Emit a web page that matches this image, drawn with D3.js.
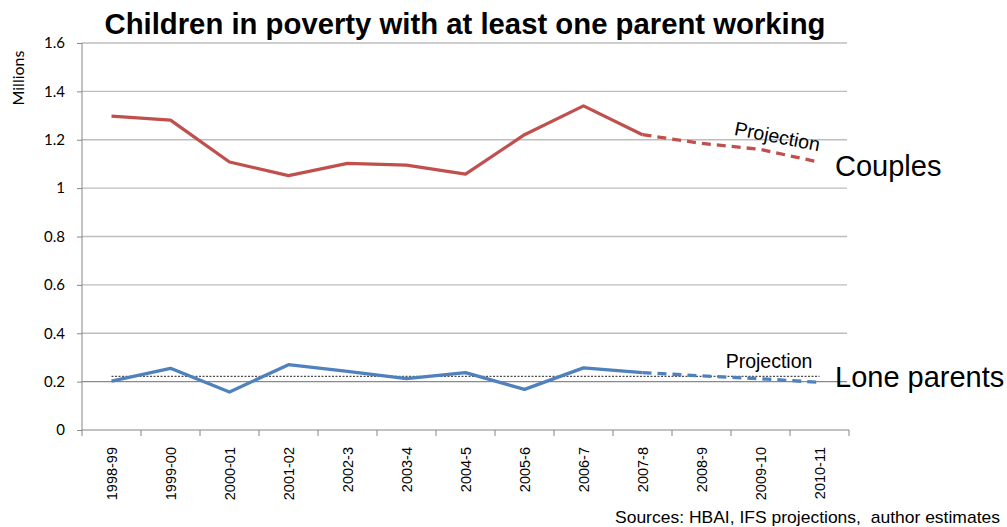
<!DOCTYPE html>
<html>
<head>
<meta charset="utf-8">
<script src="https://cdn.jsdelivr.net/npm/d3@7"></script>
<style>
  html, body { margin: 0; padding: 0; background: #ffffff; }
  svg { display: block; }
</style>
</head>
<body>
<svg id="chart" width="1007" height="527"></svg>
<script>
// Financial years shown along the bottom axis
const years = ["1998-99", "1999-00", "2000-01", "2001-02", "2002-3", "2003-4", "2004-5",
               "2005-6", "2006-7", "2007-8", "2008-9", "2009-10", "2010-11"];

// Children in poverty (millions) with at least one parent working
const couples     = [1.298, 1.281, 1.108, 1.052, 1.102, 1.095, 1.058, 1.221, 1.340, 1.221, 1.185, 1.160, 1.107];
const loneParents = [0.202, 0.255, 0.157, 0.270, 0.242, 0.212, 0.237, 0.168, 0.257, 0.237, 0.224, 0.212, 0.197];

// Last observed year; values after it are projections
const lastActual = "2007-8";

// Average level drawn as a dotted reference for lone parents
const loneAverage = 0.222;

const yTicks      = [0, 0.2, 0.4, 0.6, 0.8, 1, 1.2, 1.4, 1.6];
const yTickLabels = ["0", "0.2", "0.4", "0.6", "0.8", "1", "1.2", "1.4", "1.6"];

const svg = d3.select("#chart");
const plotLeft = 82, plotRight = 849, plotTop = 43, plotBottom = 430;

const x = d3.scaleBand().domain(years).range([plotLeft, plotRight]).padding(0);
const cx = d => x(d) + x.bandwidth() / 2;
const y = d3.scaleLinear().domain([0, 1.6]).range([plotBottom, plotTop]);

// Horizontal gridlines
svg.append("g")
  .selectAll("line")
  .data(yTicks.filter(v => v > 0))
  .join("line")
  .attr("x1", plotLeft).attr("x2", plotRight - 2)
  .attr("y1", d => y(d)).attr("y2", d => y(d))
  .attr("stroke", d => d === 0.2 ? "#8a8a8a" : "#bdbdbd")
  .attr("stroke-width", 1.3);

// Y axis
const yAxis = d3.axisLeft(y)
  .tickValues(yTicks)
  .tickFormat((d, i) => yTickLabels[i])
  .tickSize(5)
  .tickPadding(12);
const gy = svg.append("g").attr("transform", `translate(${plotLeft},0)`).call(yAxis);
gy.select(".domain").attr("stroke", "#868686").attr("d", `M0,${plotBottom + 0.5}V${plotTop}`);
gy.selectAll(".tick line").attr("stroke", "#868686");
gy.selectAll(".tick text")
  .attr("fill", "#000")
  .style("font-family", "Lato, 'Open Sans', sans-serif")
  .style("font-size", "15px");

// X axis line, boundary ticks and rotated year labels
const gx = svg.append("g");
gx.append("line")
  .attr("x1", plotLeft).attr("x2", plotRight)
  .attr("y1", plotBottom).attr("y2", plotBottom)
  .attr("stroke", "#868686").attr("stroke-width", 1);
gx.selectAll("line.tick")
  .data(years.map(d => x(d)).concat([x(years[years.length - 1]) + x.bandwidth()]))
  .join("line")
  .attr("class", "tick")
  .attr("x1", d => d).attr("x2", d => d)
  .attr("y1", plotBottom).attr("y2", plotBottom + 6)
  .attr("stroke", "#868686");
gx.selectAll("text")
  .data(years)
  .join("text")
  .attr("transform", d => `translate(${cx(d)},${plotBottom + 17}) rotate(-90)`)
  .attr("dy", "0.35em")
  .attr("text-anchor", "end")
  .style("font-family", "'Liberation Sans', Arial, sans-serif")
  .style("font-size", "14.5px")
  .text(d => d);

// Dotted average line for lone parents
svg.append("line")
  .attr("x1", cx(years[0])).attr("x2", cx(years[years.length - 1]))
  .attr("y1", y(loneAverage)).attr("y2", y(loneAverage))
  .attr("stroke", "#222")
  .attr("stroke-width", 1)
  .attr("stroke-dasharray", "2,1.5");

// Series lines: solid for observed years, dashed for projections
const line = d3.line().x(d => cx(d.year)).y(d => y(d.value));
const split = years.indexOf(lastActual);

function drawSeries(values, colour) {
  const pts = years.map((year, i) => ({ year, value: values[i] }));
  svg.append("path")
    .datum(pts.slice(0, split + 1))
    .attr("d", line)
    .attr("fill", "none")
    .attr("stroke", colour)
    .attr("stroke-width", 3.3)
    .attr("stroke-linejoin", "round");
  svg.append("path")
    .datum(pts.slice(split))
    .attr("d", line)
    .attr("fill", "none")
    .attr("stroke", colour)
    .attr("stroke-width", 3.3)
    .attr("stroke-dasharray", "9,6");
}
drawSeries(couples, "#c0504d");
drawSeries(loneParents, "#4f81bd");

// Title
svg.append("text")
  .attr("x", 465).attr("y", 34)
  .attr("text-anchor", "middle")
  .attr("textLength", 721)
  .attr("lengthAdjust", "spacingAndGlyphs")
  .style("font-family", "'Liberation Sans', Arial, sans-serif")
  .style("font-weight", "bold")
  .style("font-size", "29px")
  .text("Children in poverty with at least one parent working");

// Y axis title
svg.append("text")
  .attr("transform", "translate(24,78) rotate(-90)")
  .attr("text-anchor", "middle")
  .style("font-family", "Lato, 'Open Sans', sans-serif")
  .style("font-size", "16px")
  .text("Millions");

// Series labels
const labelFont = "'Liberation Sans', Arial, sans-serif";
svg.append("text")
  .attr("x", 835).attr("y", 176)
  .style("font-family", labelFont).style("font-size", "29px")
  .text("Couples");
svg.append("text")
  .attr("x", 835).attr("y", 387)
  .style("font-family", labelFont).style("font-size", "29px")
  .text("Lone parents");

// Projection annotations
svg.append("text")
  .attr("transform", "translate(776,143) rotate(11)")
  .attr("text-anchor", "middle")
  .style("font-family", labelFont).style("font-size", "19.5px")
  .text("Projection");
svg.append("text")
  .attr("x", 769).attr("y", 368)
  .attr("text-anchor", "middle")
  .style("font-family", labelFont).style("font-size", "19.5px")
  .text("Projection");

// Source note
svg.append("text")
  .attr("x", 1000).attr("y", 523)
  .attr("text-anchor", "end")
  .attr("textLength", 385)
  .attr("lengthAdjust", "spacingAndGlyphs")
  .style("font-family", labelFont).style("font-size", "17px")
  .style("white-space", "pre")
  .text("Sources: HBAI, IFS projections,  author estimates");
</script>
</body>
</html>
